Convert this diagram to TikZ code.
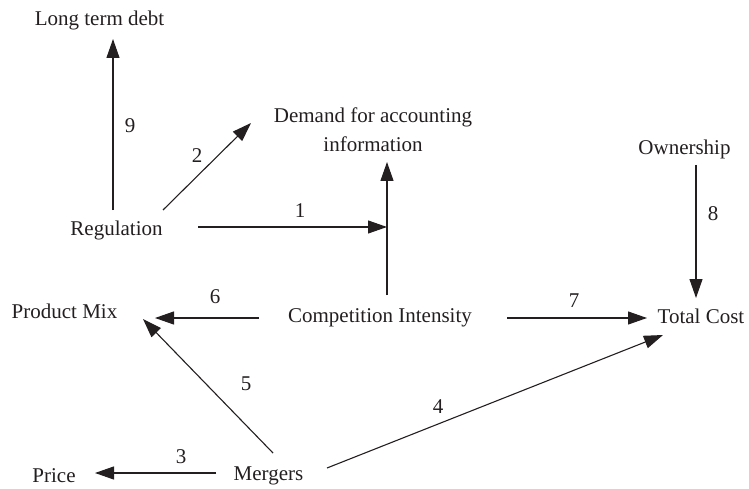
\documentclass[tikz,border=0pt]{standalone}
\usepackage{fontspec}
\setmainfont{Liberation Serif}
\usetikzlibrary{arrows.meta}
\definecolor{ink}{HTML}{231F20}
\begin{document}
\begin{tikzpicture}[x=1pt,y=-1pt,
  every node/.style={inner sep=0pt,outer sep=0pt,text=ink},
  concept/.style={anchor=base,font=\fontsize{21}{29}\selectfont},
  numlabel/.style={anchor=base,font=\fontsize{21}{25}\selectfont},
  arr/.style={draw=ink,line width=1.1pt,-{Triangle[length=19pt,width=13pt]}},
  plain/.style={draw=ink,line width=1.1pt}]
\useasboundingbox (0,0) rectangle (749,489);

% concepts (placed at their text baselines; the two-line one at its last line)
\node[concept] (ltd) at (99.5,26) {Long term debt};
\node[concept,align=center] (dem) at (373,152) {Demand for accounting\\information};
\node[concept] (own) at (684.5,155) {Ownership};
\node[concept] (reg) at (116.5,235) {Regulation};
\node[concept] (pm)  at (64.5,318) {Product Mix};
\node[concept] (ci)  at (380,322) {Competition Intensity};
\node[concept] (tc)  at (701,323) {Total Cost};
\node[concept] (pr)  at (54,482) {Price};
\node[concept] (mer) at (268.5,480) {Mergers};

% junction where link 1 meets the line from Competition Intensity
\coordinate (j) at ([shift={(7,-95)}]ci.base);

% links
\draw[arr] ([shift={(-3.5,-25)}]reg.base) -- ([shift={(13.5,13)}]ltd.base);
\draw[arr] ([shift={(46.5,-25)}]reg.base) -- ([shift={(-122,-29)}]dem.base);
\draw[arr] ([shift={(81.5,-8)}]reg.base) -- (j);
\draw[arr] ([shift={(7,-27)}]ci.base) -- ([shift={(14,10)}]dem.base);
\draw[arr] ([shift={(-121,-4)}]ci.base) -- ([shift={(90.5,0)}]pm.base);
\draw[arr] ([shift={(127,-4)}]ci.base) -- ([shift={(-54,-5)}]tc.base);
\draw[arr] ([shift={(11.5,10)}]own.base) -- ([shift={(-5,-25)}]tc.base);
\draw[arr] ([shift={(4.5,-27)}]mer.base) -- ([shift={(78.5,1)}]pm.base);
\draw[arr] ([shift={(-52.5,-7)}]mer.base) -- ([shift={(41,-9)}]pr.base);
\draw[arr] ([shift={(58.5,-12)}]mer.base) -- ([shift={(-38,12)}]tc.base);

% link numbers
\node[numlabel] (n1) at (300,218) {1};
\node[numlabel] (n2) at (197,163) {2};
\node[numlabel] (n3) at (181,463) {3};
\node[numlabel] (n4) at (438,413) {4};
\node[numlabel] (n5) at (246,390) {5};
\node[numlabel] (n6) at (215,303) {6};
\node[numlabel] (n7) at (574,307) {7};
\node[numlabel] (n8) at (713,220) {8};
\node[numlabel] (n9) at (130,133) {9};
\end{tikzpicture}
\end{document}
